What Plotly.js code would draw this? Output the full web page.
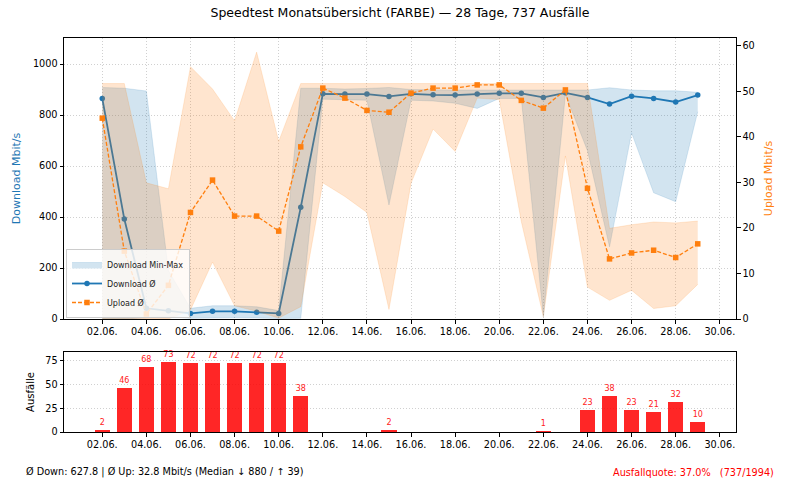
<!DOCTYPE html>
<html>
<head>
<meta charset="utf-8">
<script src="https://cdn.plot.ly/plotly-3.0.1.min.js"></script>
<style>html,body{margin:0;padding:0;background:#fff;}#chart{width:800px;height:480px;}</style>
</head>
<body>
<div id="chart"></div>
<script>
// ---- data ----
const dates = ["2025-06-02","2025-06-03","2025-06-04","2025-06-05","2025-06-06","2025-06-07","2025-06-08",
  "2025-06-09","2025-06-10","2025-06-11","2025-06-12","2025-06-13","2025-06-14","2025-06-15",
  "2025-06-16","2025-06-17","2025-06-18","2025-06-19","2025-06-20","2025-06-21","2025-06-22",
  "2025-06-23","2025-06-24","2025-06-25","2025-06-26","2025-06-27","2025-06-28","2025-06-29"];
const downAvg = [865,392,42,32,22,30,30,26,22,438,883,882,882,873,883,879,878,882,885,885,869,887,869,843,874,865,851,878];
const downMax = [908,905,894,190,42,52,52,48,33,905,905,902,904,908,900,898,898,898,898,898,898,898,898,907,898,895,895,889];
const downMin = [0,0,5,10,3,5,5,4,2,3,862,860,858,447,858,855,846,826,865,865,9,880,660,283,730,495,460,813];
const upAvg = [44.1,14.9,1.1,7.4,23.4,30.5,22.6,22.6,19.3,37.8,50.7,48.5,45.8,45.4,49.6,50.7,50.7,51.4,51.4,48.0,46.3,50.3,28.7,13.2,14.5,15.1,13.5,16.5];
const upMax = [51.7,51.7,29.9,28.6,55.4,50.5,43.5,58.6,39.0,51.7,51.7,51.7,51.7,51.7,51.7,51.7,51.7,51.7,51.7,51.7,51.7,51.7,51.7,19.9,20.7,21.3,21.1,21.5];
const upMin = [0,0,0,0,2.0,12.5,2.9,1.7,0.2,2.7,29.9,26.9,23.4,2.1,29.8,41.7,36.8,48.5,48.2,21.4,0.5,35.8,7.0,4.1,6.3,2.3,2.9,7.6];
const failures = [2,46,68,73,72,72,72,72,72,38,0,0,0,2,0,0,0,0,0,0,1,0,23,38,23,21,32,10];

const titleText = "Speedtest Monatsübersicht (FARBE) — 28 Tage, 737 Ausfälle";
const footerLeft = "Ø Down: 627.8 | Ø Up: 32.8 Mbit/s (Median ↓ 880 / ↑ 39)";
const footerRight = "Ausfallquote: 37.0%   (737/1994)";

const BLUE = "#1f77b4", ORANGE = "#ff7f0e";
const FONT = "DejaVu Sans";
const xRange = ["2025-05-31 06:22", "2025-06-30 17:38"];

const traces = [
  {x: dates, y: downMin, type: "scatter", mode: "lines", line: {width: 0.6, color: "rgba(31,119,180,0.25)"},
   showlegend: false, hoverinfo: "skip", xaxis: "x", yaxis: "y"},
  {x: dates, y: downMax, type: "scatter", mode: "lines", fill: "tonexty", fillcolor: "rgba(31,119,180,0.2)",
   line: {width: 0.6, color: "rgba(31,119,180,0.25)"}, name: "Download Min-Max", xaxis: "x", yaxis: "y"},
  {x: dates, y: downAvg, type: "scatter", mode: "lines+markers", line: {width: 1.8, color: BLUE},
   marker: {symbol: "circle", size: 5.5, color: BLUE}, name: "Download Ø", xaxis: "x", yaxis: "y"},
  {x: dates, y: upMin, type: "scatter", mode: "lines", line: {width: 0.6, color: "rgba(255,127,14,0.25)"},
   showlegend: false, hoverinfo: "skip", xaxis: "x", yaxis: "y2"},
  {x: dates, y: upMax, type: "scatter", mode: "lines", fill: "tonexty", fillcolor: "rgba(255,127,14,0.2)",
   line: {width: 0.6, color: "rgba(255,127,14,0.25)"}, showlegend: false, name: "Upload Min-Max", xaxis: "x", yaxis: "y2"},
  {x: dates, y: upAvg, type: "scatter", mode: "lines+markers", line: {width: 1.3, color: ORANGE, dash: "4px,2px"},
   marker: {symbol: "square", size: 5.5, color: ORANGE}, name: "Upload Ø", xaxis: "x", yaxis: "y2"},
  {x: dates, y: failures, type: "bar", width: 0.7 * 86400000, marker: {color: "rgba(255,0,0,0.85)"},
   text: failures.map(v => v > 0 ? String(v) : ""), textposition: "outside", cliponaxis: false,
   textfont: {color: "#ff2020", size: 8, family: FONT}, showlegend: false, xaxis: "x2", yaxis: "y3"}
];

const gridStyle = {showgrid: true, gridcolor: "#c4c4c4", griddash: "1px,2px", gridwidth: 0.8};
const axisBase = {showline: true, linecolor: "#000", linewidth: 1, ticks: "outside", ticklen: 3.5, tickcolor: "#000",
  tickfont: {family: FONT, size: 9.7, color: "#000"}, zeroline: false};

const layout = {
  width: 800, height: 480,
  margin: {l: 0, r: 0, t: 0, b: 0},
  paper_bgcolor: "#fff", plot_bgcolor: "#fff",
  font: {family: FONT, size: 10, color: "#000"},
  title: {text: titleText, x: 0.5, xanchor: "center", y: 1 - 13/480, yanchor: "middle", font: {family: FONT, size: 12.5, color: "#000"}},
  xaxis: Object.assign({}, axisBase, gridStyle, {domain: [0.08, 0.92], anchor: "y", type: "date", range: xRange,
    tick0: "2025-06-02", dtick: 2 * 86400000, tickformat: "%d.%m.", mirror: true}),
  yaxis: Object.assign({}, axisBase, gridStyle, {domain: [1 - 319/480, 1 - 38/480], anchor: "x", range: [0, 1102],
    dtick: 200, title: {text: "Download Mbit/s", font: {family: FONT, size: 11, color: BLUE}, standoff: 10}}),
  yaxis2: Object.assign({}, axisBase, {overlaying: "y", side: "right", anchor: "x", range: [0, 61.7], dtick: 10,
    showgrid: false, title: {text: "Upload Mbit/s", font: {family: FONT, size: 11, color: ORANGE}, standoff: 10}}),
  xaxis2: Object.assign({}, axisBase, {domain: [0.08, 0.92], anchor: "y3", type: "date", range: xRange, showgrid: false,
    tick0: "2025-06-02", dtick: 2 * 86400000, tickformat: "%d.%m.", mirror: true}),
  yaxis3: Object.assign({}, axisBase, {domain: [1 - 432/480, 1 - 352/480], anchor: "x2", range: [0, 84], dtick: 25,
    mirror: true, showgrid: true, gridcolor: "#c4c4c4", griddash: "1px,2px", gridwidth: 0.8,
    title: {text: "Ausfälle", font: {family: FONT, size: 10, color: "#000"}, standoff: 8}}),
  bargap: 0,
  legend: {x: 66/800, y: 1 - 318/480, xanchor: "left", yanchor: "bottom", bgcolor: "rgba(255,255,255,0.8)",
    bordercolor: "#cccccc", borderwidth: 1, font: {family: FONT, size: 8, color: "#222"}, itemwidth: 30,
    traceorder: "normal", tracegroupgap: 0},
  annotations: [
    {text: footerLeft, xref: "paper", yref: "paper", x: 24/800, y: 1 - 472/480, xanchor: "left", yanchor: "middle",
     showarrow: false, font: {family: FONT, size: 9.7, color: "#000"}},
    {text: footerRight, xref: "paper", yref: "paper", x: 776/800, y: 1 - 472/480, xanchor: "right", yanchor: "middle",
     showarrow: false, font: {family: FONT, size: 9.7, color: "#ff0000"}}
  ]
};

Plotly.newPlot("chart", traces, layout, {displayModeBar: false, staticPlot: true});
</script>
</body>
</html>
